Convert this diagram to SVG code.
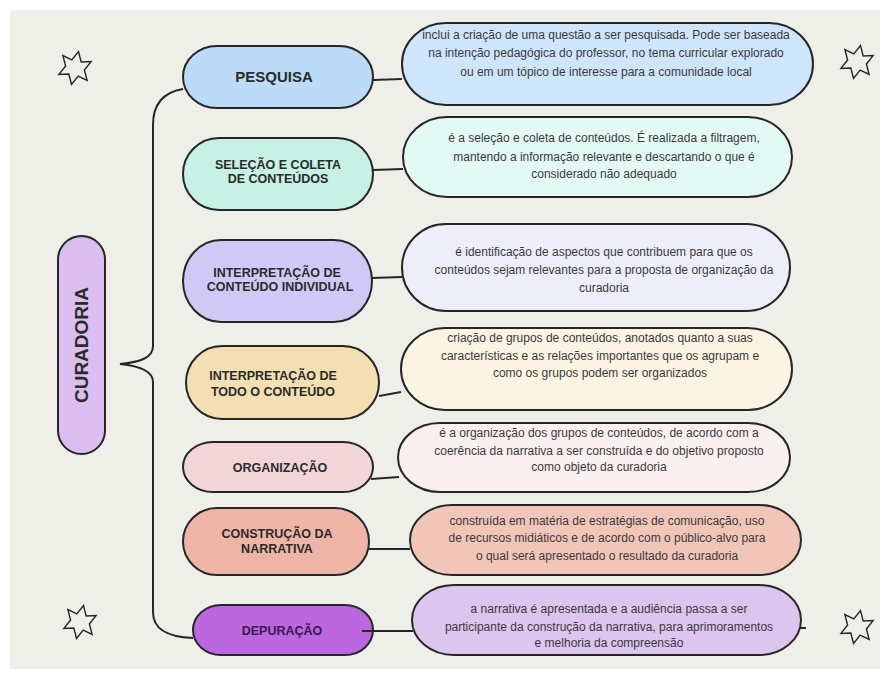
<svg xmlns="http://www.w3.org/2000/svg" width="887" height="673" viewBox="0 0 887 673">
<defs>
<style>
.bg{fill:#efefea}
.node{stroke:#262626;stroke-width:2}
.t{font-family:"Liberation Sans",Arial,sans-serif;font-weight:bold;font-size:12.5px;fill:#2a2a2a;text-anchor:middle}
.d{font-family:"Liberation Sans",Arial,sans-serif;font-size:12px;fill:#3a3a3a;text-anchor:middle}
.conn{stroke:#262626;stroke-width:2;fill:none}
.star{fill:none;stroke:#262626;stroke-width:1.2;stroke-linejoin:miter}
</style>
<polygon id="star" points="0,-14 4,-6 12,-8 8,0 12,8 4,6 0,14 -4,6 -12,8 -8,0 -12,-8 -4,-6"/>
</defs>
<rect x="0" y="0" width="887" height="673" fill="#ffffff"/>
<rect class="bg" x="10" y="10" width="870" height="659"/>
<g id="stars">
<use href="#star" class="star" transform="translate(75,68) rotate(12) scale(1.2)"/>
<use href="#star" class="star" transform="translate(857,62) rotate(12) scale(1.2)"/>
<use href="#star" class="star" transform="translate(80,622) rotate(12) scale(1.2)"/>
<use href="#star" class="star" transform="translate(857,627) rotate(12) scale(1.2)"/>
</g>
<g id="connectors">
<path class="conn" d="M183,89 C165,92 153,102 153,125 L153,346 C153,358 140,362 120,364 C140,366 153,372 153,382 L153,612 C153,630 168,637 193,638"/>
</g>
<g id="curadoria">
<rect class="node" x="58" y="236" width="47" height="218" rx="23.5" fill="#dcbdf0"/>
<text class="t" style="font-size:19px" transform="translate(88,345) rotate(-90)">CURADORIA</text>
</g>
<g id="pesquisa">
<rect class="node" x="183" y="46" width="190" height="62" rx="34" ry="31" fill="#bcdbf8"/>
<text class="t" style="font-size:15px" x="274" y="82">PESQUISA</text>
</g>
<g id="selecao">
<rect class="node" x="183" y="138" width="190" height="72" rx="36" ry="36" fill="#c6f1e4"/>
<text class="t" x="278" y="169">SELEÇÃO E COLETA</text>
<text class="t" x="278" y="183">DE CONTEÚDOS</text>
</g>
<g id="interp-individual">
<rect class="node" x="183" y="240" width="189" height="82" rx="38" ry="41" fill="#d0c9f6"/>
<text class="t" x="277" y="277">INTERPRETAÇÃO DE</text>
<text class="t" x="280" y="291">CONTEÚDO INDIVIDUAL</text>
</g>
<g id="interp-todo">
<rect class="node" x="186" y="346" width="193" height="73" rx="36" ry="36.5" fill="#f3dfb2"/>
<text class="t" x="273" y="380">INTERPRETAÇÃO DE</text>
<text class="t" x="273" y="396">TODO O CONTEÚDO</text>
</g>
<g id="organizacao">
<rect class="node" x="183" y="442" width="190" height="50" rx="30" ry="25" fill="#f2d5d9"/>
<text class="t" x="280" y="472">ORGANIZAÇÃO</text>
</g>
<g id="construcao">
<rect class="node" x="183" y="508" width="186" height="67" rx="34" ry="33.5" fill="#eeb5a7"/>
<text class="t" x="277" y="538">CONSTRUÇÃO DA</text>
<text class="t" x="277" y="553">NARRATIVA</text>
</g>
<g id="depuracao">
<rect class="node" x="193" y="605" width="180" height="50" rx="28" ry="25" fill="#bb67df"/>
<text class="t" style="fill:#3b1650" x="282" y="635">DEPURAÇÃO</text>
</g>
<g id="desc-pesquisa">
<rect class="node" x="402" y="23" width="411" height="82" rx="44" ry="41" fill="#cfe5fb"/>
<text class="d" x="606" y="39">inclui a criação de uma questão a ser pesquisada. Pode ser baseada</text>
<text class="d" x="606" y="57">na intenção pedagógica do professor, no tema curricular explorado</text>
<text class="d" x="606" y="76">ou em um tópico de interesse para a comunidade local</text>
</g>
<g id="desc-selecao">
<rect class="node" x="403" y="117" width="389" height="80" rx="44" ry="40" fill="#e3f9f4"/>
<text class="d" x="604" y="142">é a seleção e coleta de conteúdos. É realizada a filtragem,</text>
<text class="d" x="604" y="161">mantendo a informação relevante e descartando o que é</text>
<text class="d" x="604" y="178">considerado não adequado</text>
</g>
<g id="desc-interp-individual">
<rect class="node" x="402" y="224" width="388" height="87" rx="44" ry="43.5" fill="#eeeefb"/>
<text class="d" x="604" y="256">é identificação de aspectos que contribuem para que os</text>
<text class="d" x="604" y="274">conteúdos sejam relevantes para a proposta de organização da</text>
<text class="d" x="604" y="292">curadoria</text>
</g>
<g id="desc-interp-todo">
<rect class="node" x="401" y="328" width="391" height="82" rx="44" ry="41" fill="#fcf4e3"/>
<text class="d" x="600" y="342">criação de grupos de conteúdos, anotados quanto a suas</text>
<text class="d" x="600" y="360">características e as relações importantes que os agrupam e</text>
<text class="d" x="600" y="377">como os grupos podem ser organizados</text>
</g>
<g id="desc-organizacao">
<rect class="node" x="398" y="423" width="392" height="69" rx="42" ry="34.5" fill="#fbf0f0"/>
<text class="d" x="599" y="437">é a organização dos grupos de conteúdos, de acordo com a</text>
<text class="d" x="599" y="455">coerência da narrativa a ser construída e do objetivo proposto</text>
<text class="d" x="599" y="471">como objeto da curadoria</text>
</g>
<g id="desc-construcao">
<rect class="node" x="410" y="505" width="391" height="70" rx="42" ry="35" fill="#f2c5b9"/>
<text class="d" x="607" y="525">construída em matéria de estratégias de comunicação, uso</text>
<text class="d" x="607" y="542">de recursos midiáticos e de acordo com o público-alvo para</text>
<text class="d" x="607" y="560">o qual será apresentado o resultado da curadoria</text>
</g>
<g id="desc-depuracao">
<rect class="node" x="412" y="585" width="389" height="70" rx="42" ry="35" fill="#dcc5ee"/>
<text class="d" x="609" y="613">a narrativa é apresentada e a audiência passa a ser</text>
<text class="d" x="609" y="631">participante da construção da narrativa, para aprimoramentos</text>
<text class="d" x="609" y="647">e melhoria da compreensão</text>
</g>
<g id="links">
<line class="conn" x1="373" y1="80" x2="402" y2="79"/>
<line class="conn" x1="373" y1="170" x2="403" y2="169"/>
<line class="conn" x1="372" y1="278" x2="402" y2="277"/>
<line class="conn" x1="379" y1="396" x2="401" y2="392"/>
<line class="conn" x1="371" y1="479" x2="399" y2="477"/>
<line class="conn" x1="369" y1="549" x2="410" y2="549"/>
<line class="conn" x1="362" y1="631" x2="413" y2="631"/>
<line class="conn" x1="800" y1="628" x2="806" y2="628"/>
</g>
</svg>
